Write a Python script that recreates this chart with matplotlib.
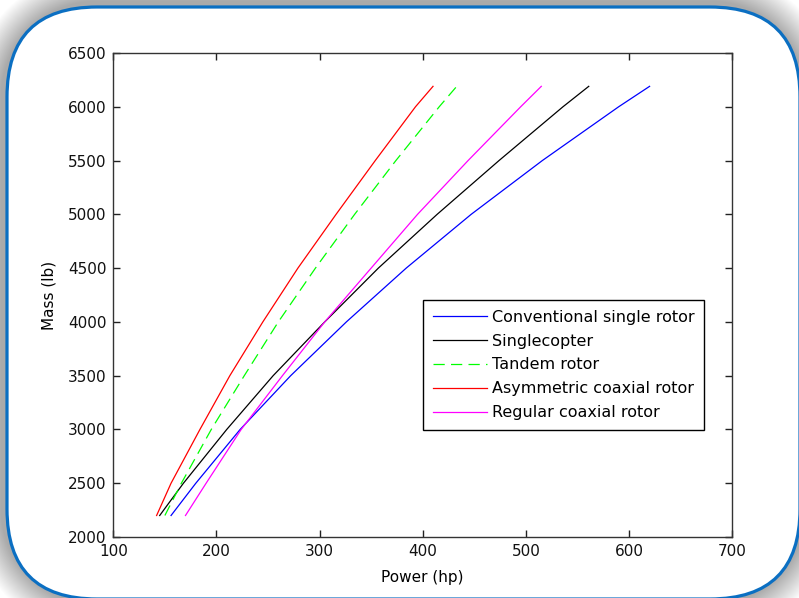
import numpy as np
import matplotlib.pyplot as plt
from matplotlib.patches import FancyBboxPatch

# mass levels (lb) and required power (hp) for each configuration
mass = [2200, 2500, 3000, 3500, 4000, 4500, 5000, 5500, 6000, 6190]
p_conventional = [156, 180, 223, 272, 326, 384, 447, 516, 590, 620]
p_singlecopter = [145, 168, 210, 255, 305, 357, 414, 474, 536, 561]
p_tandem = [150, 166, 195, 227, 260, 296, 334, 374, 416, 433]
p_asym_coax = [142, 156, 184, 213, 245, 279, 316, 354, 393, 410]
p_reg_coax = [170, 190, 224, 264, 305, 350, 395, 444, 495, 515]

W, H = 799, 598
fig = plt.figure(figsize=(W / 100, H / 100), dpi=100)

# slide-style background: grey shadow around a rounded white panel
bg = fig.add_axes([0, 0, 1, 1])
bg.set_xlim(0, W)
bg.set_ylim(H, 0)
bg.axis('off')

x0, y0, x1, y1, r = 7, 7, 800, 599, 90
xx, yy = np.meshgrid(np.arange(W) + 0.5, np.arange(H) + 0.5)
cx, cy = (x0 + x1) / 2, (y0 + y1) / 2
qx = np.abs(xx - cx) - ((x1 - x0) / 2 - r)
qy = np.abs(yy - cy) - ((y1 - y0) / 2 - r)
d = np.hypot(np.maximum(qx, 0), np.maximum(qy, 0)) + np.minimum(np.maximum(qx, qy), 0) - r
shade = 0.67 + 0.33 * np.clip((d - 6) / 30, 0, 1)
bg.imshow(np.dstack([shade] * 3), extent=(0, W, H, 0), aspect='auto', zorder=0)

panel = FancyBboxPatch((x0, y0), x1 - x0, y1 - y0,
                       boxstyle='round,pad=0,rounding_size=%d' % r,
                       facecolor='white', edgecolor='#0b6fc2', linewidth=2.3, zorder=1)
bg.add_patch(panel)

ax = fig.add_axes([113.3 / W, 1 - 537 / H, 618.8 / W, 484 / H])
ax.plot(p_conventional, mass, color='#0000ff', lw=0.9, label='Conventional single rotor')
ax.plot(p_singlecopter, mass, color='black', lw=0.9, label='Singlecopter')
ax.plot(p_tandem, mass, color='#00ff00', lw=0.9, dashes=(9, 5), label='Tandem rotor')
ax.plot(p_asym_coax, mass, color='#ff0000', lw=0.9, label='Asymmetric coaxial rotor')
ax.plot(p_reg_coax, mass, color='#ff00ff', lw=0.9, label='Regular coaxial rotor')

ax.set_xlim(100, 700)
ax.set_ylim(2000, 6500)
ax.set_xticks(np.arange(100, 701, 100))
ax.set_yticks(np.arange(2000, 6501, 500))
ax.tick_params(direction='in', length=5, width=1, top=True, right=True,
               labelsize=11, pad=5, colors='#222222', labelcolor='#111111')
for s in ax.spines.values():
    s.set_color('#333333')
    s.set_linewidth(1.0)

ax.set_xlabel('Power (hp)', fontsize=11, labelpad=8)
ax.set_ylabel('Mass (lb)', fontsize=11, labelpad=8)

leg = ax.legend(loc='upper left', bbox_to_anchor=(423 / W, 1 - 300 / H),
                bbox_transform=fig.transFigure, borderaxespad=0,
                fontsize=11.5, handlelength=3.4, handletextpad=0.3,
                labelspacing=0.56, borderpad=0.6, fancybox=False,
                framealpha=1, edgecolor='black')
leg.get_frame().set_linewidth(1.0)

fig.savefig('out.png', dpi=100)
